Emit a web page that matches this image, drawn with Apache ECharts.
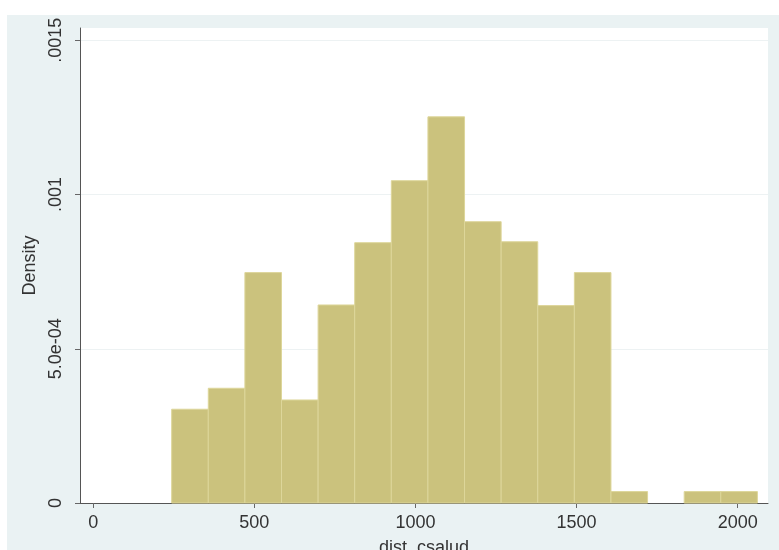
<!DOCTYPE html>
<html>
<head>
<meta charset="utf-8">
<script src="https://cdn.jsdelivr.net/npm/echarts@6/dist/echarts.min.js"></script>
<style>
  html, body { margin: 0; padding: 0; background: #ffffff; }
  #chart { width: 779px; height: 550px; }
</style>
</head>
<body>
<div id="chart"></div>
<script>
// Histogram of dist_csalud (density scale)
var binStart = 243.5;
var binWidth = 113.6;
var densities = [0.000304, 0.000372, 0.000747, 0.000334, 0.000642, 0.000844,
                 0.001045, 0.001252, 0.000912, 0.000847, 0.000640, 0.000747,
                 0.000037, 0, 0.000037, 0.000037];
var xTicks = [0, 500, 1000, 1500, 2000];
var yTicks = [0, 0.0005, 0.001, 0.0015];
var yTickLabels = ['0', '5.0e-04', '.001', '.0015'];

var bins = densities.map(function (d, i) {
  var x0 = binStart + i * binWidth;
  return [x0, x0 + binWidth, d];
});

var chart = echarts.init(document.getElementById('chart'), null, { renderer: 'canvas' });
var labelFont = '"Liberation Sans", Arial, sans-serif';

chart.setOption({
  backgroundColor: '#ffffff',
  animation: false,
  graphic: [
    { type: 'rect', z: -10, shape: { x: 7, y: 15, width: 772, height: 535 }, style: { fill: '#eaf2f3' } },
    { type: 'rect', z: -9, shape: { x: 80, y: 28, width: 688, height: 475 }, style: { fill: '#ffffff' } }
  ],
  grid: { left: 80, right: 11, top: 28, bottom: 47, containLabel: false, outerBoundsMode: 'none' },
  xAxis: {
    type: 'value',
    min: -41,
    max: 2094,
    name: 'dist_csalud',
    nameLocation: 'middle',
    nameGap: 36,
    nameTextStyle: { color: '#333', fontSize: 18, fontFamily: labelFont },
    axisLine: { show: true, onZero: false, lineStyle: { color: '#555', width: 1 } },
    axisTick: { show: true, length: 5, customValues: xTicks, lineStyle: { color: '#666' } },
    axisLabel: {
      customValues: xTicks, margin: 11, color: '#333', fontSize: 18, fontFamily: labelFont,
      formatter: function (v) { return String(v); }
    },
    splitLine: { show: false }
  },
  yAxis: {
    type: 'value',
    min: 0,
    max: 0.00154,
    name: 'Density',
    nameLocation: 'middle',
    nameGap: 35,
    nameRotate: 90,
    nameTextStyle: { color: '#333', fontSize: 18, fontFamily: labelFont },
    axisLine: { show: true, onZero: false, lineStyle: { color: '#555', width: 1 } },
    axisTick: { show: true, length: 5, customValues: yTicks, lineStyle: { color: '#666' } },
    axisLabel: {
      customValues: yTicks,
      rotate: 90,
      margin: 15,
      color: '#333',
      fontSize: 18,
      fontFamily: labelFont,
      formatter: function (v) {
        for (var i = 0; i < yTicks.length; i++) {
          if (Math.abs(v - yTicks[i]) < 1e-9) return yTickLabels[i];
        }
        return '';
      }
    },
    splitLine: { show: true, lineStyle: { color: '#edf2f3', width: 1 } }
  },
  series: [{
    type: 'custom',
    data: bins,
    encode: { x: [0, 1], y: 2 },
    renderItem: function (params, api) {
      if (api.value(2) <= 0) return null;
      var top = api.coord([api.value(0), api.value(2)]);
      var bottom = api.coord([api.value(1), 0]);
      return {
        type: 'rect',
        shape: { x: top[0], y: top[1], width: bottom[0] - top[0], height: bottom[1] - top[1] },
        style: { fill: '#cbc27d', stroke: '#ddd69a', lineWidth: 1 }
      };
    }
  }]
});
</script>
</body>
</html>
